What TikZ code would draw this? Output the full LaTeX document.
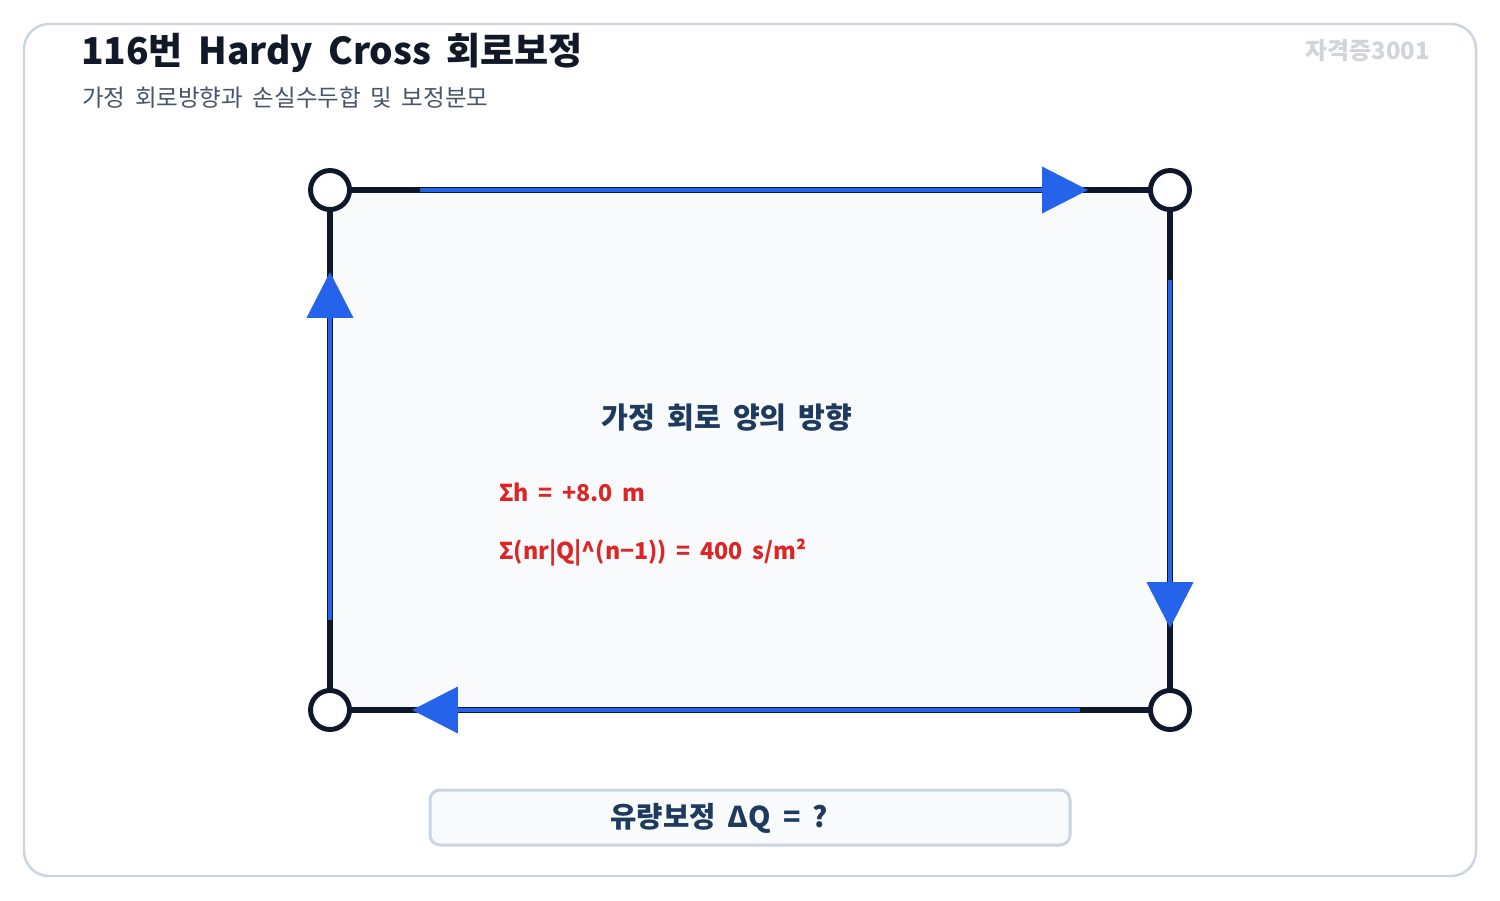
\documentclass[tikz,border=0pt]{standalone}
\usepackage{fontspec}
\setmainfont{Noto Sans CJK KR}[WordSpace=1.8]
\usetikzlibrary{arrows.meta,calc}

\definecolor{framegray}{HTML}{CBD5E1}
\definecolor{loopdark}{HTML}{0F172A}
\definecolor{loopfill}{HTML}{F8FAFC}
\definecolor{flowblue}{HTML}{2563EB}
\definecolor{sumred}{HTML}{DC2626}
\definecolor{headnavy}{HTML}{1E3A5F}
\definecolor{titleink}{HTML}{111827}
\definecolor{subgray}{HTML}{475569}
\definecolor{markgray}{HTML}{D1D5DB}

\begin{document}
\begin{tikzpicture}[x=0.02cm, y=-0.02cm,
    corner/.style={circle, draw=loopdark, fill=white, line width=2.8pt, minimum size=0.78cm, inner sep=0pt},
    flow/.style={draw=flowblue, line width=2.4pt, -{Triangle[length=0.92cm, width=0.92cm]}},
    sumtext/.style={anchor=west, text=sumred, font=\fontsize{13.2}{16}\selectfont\bfseries}]

    \useasboundingbox (0,0) rectangle (1500,900);
    \draw[framegray, line width=1.4pt, rounded corners=0.5cm, fill=white] (24,24) rectangle (1476,876);

    % heading
    \node[anchor=west, text=titleink, font=\fontsize{21.1}{25}\selectfont\bfseries] (title) at (75,53) {116번 Hardy Cross 회로보정};
    \node[anchor=west, text=subgray, font=\fontsize{13.4}{16}\selectfont] (subtitle) at (76,98) {가정 회로방향과 손실수두합 및 보정분모};
    \node[anchor=east, text=markgray, font=\fontsize{13.6}{16}\selectfont\bfseries] (mark) at (1436,51) {자격증3001};

    % loop
    \coordinate (nw) at (330,190);
    \coordinate (ne) at (1170,190);
    \coordinate (se) at (1170,710);
    \coordinate (sw) at (330,710);
    \filldraw[draw=loopdark, fill=loopfill, line width=3.4pt] (nw) -- (ne) -- (se) -- (sw) -- cycle;

    \draw[flow] ($(nw)+(90,0)$) -- ($(ne)+(-82,0)$);
    \draw[flow] ($(ne)+(0,90)$) -- ($(se)+(0,-82)$);
    \draw[flow] ($(se)+(-90,0)$) -- ($(sw)+(82,0)$);
    \draw[flow] ($(sw)+(0,-90)$) -- ($(nw)+(0,82)$);

    \node[corner] (c1) at (nw) {};
    \node[corner] (c2) at (ne) {};
    \node[corner] (c3) at (se) {};
    \node[corner] (c4) at (sw) {};

    \node[text=headnavy, font=\fontsize{16.6}{20}\selectfont\bfseries] (sense) at (727,418) {가정 회로 양의 방향};
    \node[sumtext] (sumh) at (493,492) {Σh = +8.0 m};
    \node[sumtext] (sumd) at (493,553) {Σ(nr|Q|\^{}(n−1)) = 400 s/m²};

    % result box
    \draw[framegray, line width=1.7pt, rounded corners=0.2cm, fill=loopfill] (430,790) rectangle (1070,845);
    \node[text=headnavy, font=\fontsize{16.3}{20}\selectfont\bfseries] (dq) at (719,818) {유량보정 ΔQ = ?};
\end{tikzpicture}
\end{document}
